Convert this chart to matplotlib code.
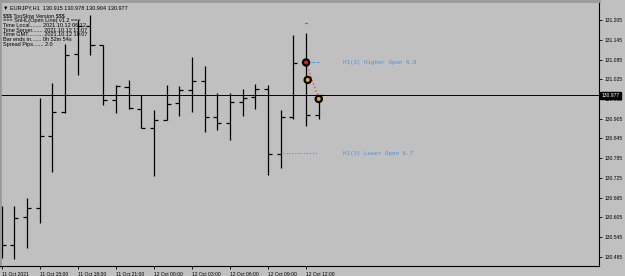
import matplotlib.pyplot as plt
import matplotlib.transforms as mtransforms

plt.rcParams['text.parse_math'] = False
plt.rcParams['font.family'] = ['Liberation Sans', 'DejaVu Sans']

opens = [130.506, 130.521, 130.605, 130.633, 130.852, 130.924, 131.102, 131.188, 131.129,
         130.963, 131.000, 130.934, 130.878, 130.901, 130.952, 130.993, 131.020, 130.911,
         130.891, 130.956, 130.972, 130.994, 130.798, 130.909, 131.076, 130.915]
highs = [130.640, 130.640, 130.664, 130.968, 131.013, 131.131, 131.205, 131.220, 131.129,
         131.007, 131.023, 130.977, 130.931, 131.007, 131.004, 131.092, 131.065, 130.982,
         130.982, 130.994, 131.010, 131.007, 130.931, 131.159, 131.166, 130.978]
lows = [130.481, 130.478, 130.512, 130.588, 130.742, 130.922, 131.038, 131.099, 130.947,
        130.921, 130.934, 130.876, 130.730, 130.901, 130.914, 130.926, 130.865, 130.871,
        130.840, 130.913, 130.934, 130.734, 130.754, 130.903, 130.883, 130.904]
closes = [130.521, 130.604, 130.633, 130.851, 130.924, 131.098, 131.188, 131.129, 130.963,
          131.004, 130.937, 130.877, 130.901, 130.950, 130.993, 131.020, 130.911, 130.891,
          130.955, 130.969, 130.994, 130.798, 130.910, 131.075, 130.915, 130.977]

time_labels = ['11 Oct 2021', '11 Oct 15:00', '11 Oct 18:00', '11 Oct 21:00', '12 Oct 00:00',
               '12 Oct 03:00', '12 Oct 06:00', '12 Oct 09:00', '12 Oct 12:00']
price_ticks = [131.205, 131.145, 131.085, 131.025, 130.965, 130.905, 130.845,
               130.785, 130.725, 130.665, 130.605, 130.545, 130.485]
last_price = 130.977

# points de l'indicateur (barre, prix)
marker_bars = [24, 24.13, 25]
marker_prices = [131.076, 131.023, 130.965]
marker_colors = ['#e02020', '#e8b020', '#e8b020']
higher_open = 131.076
lower_open = 130.800
red_dash = 131.196

info_lines = ['$$$ TooSlow Version $$$',
              '=== SnHL(Open Line) v1.2 ===',
              'Time Local........ 2021.10.12 06:12',
              'Time Server....... 2021.10.12 13:07',
              'Time GMT.......... 2021.10.12 10:07',
              'Bar ends in....... 0h 52m 54s',
              'Spread Pips....... 2.0']

bg = '#c0c0c0'
fig = plt.figure(figsize=(6.25, 2.76), dpi=100, facecolor=bg)
ax = fig.add_axes([0.0, 10 / 276, 599 / 625, 265 / 276], facecolor=bg)

idx = list(range(len(opens)))
ax.vlines(idx, lows, highs, color='black', linewidth=0.9)
ax.hlines(opens, [i - 0.32 for i in idx], idx, color='black', linewidth=0.9)
ax.hlines(closes, idx, [i + 0.32 for i in idx], color='black', linewidth=0.9)

# ligne du prix courant
ax.axhline(last_price, color='black', linewidth=0.7)

# indicateur
ax.plot([marker_bars[0], marker_bars[2]], [marker_prices[0], marker_prices[2]],
        color='#e84848', linestyle=':', linewidth=1.0)
ax.scatter(marker_bars, marker_prices, s=20, c=marker_colors, edgecolors='black',
           linewidths=1.6, zorder=5)
ax.plot([24.4, 25.0], [higher_open, higher_open], color='#4d94db', linestyle='--', linewidth=0.7)
ax.plot([22.2, 24.9], [lower_open, lower_open], color='#4d94db', linestyle=':', linewidth=0.8)
ax.plot([23.9, 24.1], [red_dash, red_dash], color='#e04040', linewidth=0.8)
ax.text(26.9, higher_open, 'H1(3) Higher Open 6.8', color='#4d94db', fontsize=4.2,
        family='DejaVu Sans Mono', va='center')
ax.text(26.9, lower_open, 'H1(3) Lower Open 6.7', color='#4d94db', fontsize=4.2,
        family='DejaVu Sans Mono', va='center')

ax.set_xlim(-0.134, 47.1)
ax.set_ylim(130.457, 131.263)

ax.yaxis.tick_right()
ax.set_yticks(price_ticks)
ax.set_yticklabels(['%.3f' % p for p in price_ticks], fontsize=3.6)
ax.set_xticks(range(0, 25, 3))
ax.set_xticklabels(time_labels, fontsize=3.6, ha='left')
ax.tick_params(axis='both', length=2.5, width=0.6, pad=1.5, colors='black')

for s in ['left', 'top']:
    ax.spines[s].set_color('#9a9a9a')
    ax.spines[s].set_linewidth(2)
for s in ['right', 'bottom']:
    ax.spines[s].set_color('black')
    ax.spines[s].set_linewidth(0.8)

# étiquette du dernier prix
trans = mtransforms.blended_transform_factory(ax.transAxes, ax.transData)
ax.text(1.004, last_price, '%.3f' % last_price, transform=trans, fontsize=3.6,
        color='white', va='center', ha='left',
        bbox=dict(boxstyle='square,pad=0.2', facecolor='black', edgecolor='black'))

# en-tête et bloc d'infos
ax.text(0.005, 0.985, '\u25bc EURJPY,H1  130.915 130.978 130.904 130.977',
        transform=ax.transAxes, fontsize=4.0, va='top', ha='left')
for k, line in enumerate(info_lines):
    ax.text(0.005, 0.952 - k * 0.0175, line, transform=ax.transAxes, fontsize=4.0,
            va='top', ha='left')

fig.savefig('out.png', dpi=100, facecolor=bg)
